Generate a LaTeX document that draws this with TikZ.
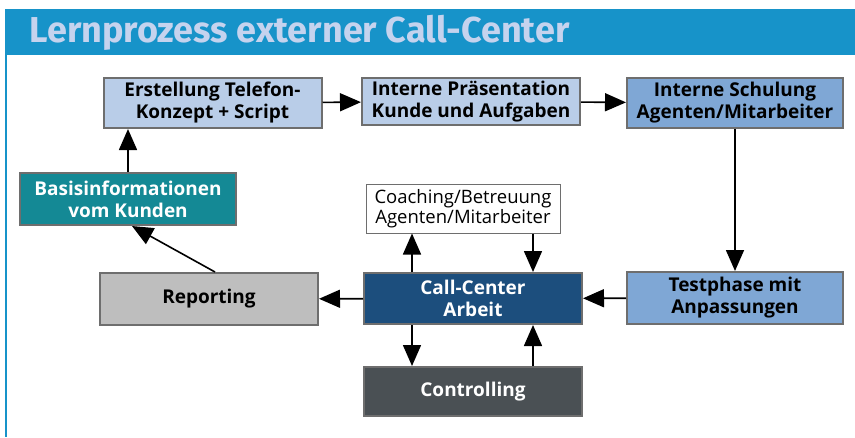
\documentclass[tikz,border=0pt]{standalone}
\usepackage{fontspec}
\setmainfont{Open Sans}
\newfontfamily\titlefont{Fira Sans}
\usetikzlibrary{arrows.meta}
\definecolor{titleblue}{HTML}{1793C9}
\definecolor{titletext}{HTML}{C5D3EE}
\definecolor{lightblue}{HTML}{B9CDE8}
\definecolor{midblue}{HTML}{7FA7D5}
\definecolor{tealbox}{HTML}{148995}
\definecolor{graybox}{HTML}{BEBEBE}
\definecolor{darkblue}{HTML}{1C4E7D}
\definecolor{darkgraybox}{HTML}{4A5054}
\definecolor{boxline}{HTML}{6E6E6E}
\tikzstyle{stepbox} = [rectangle, minimum width=218pt, minimum height=50pt, inner sep=1pt, text centered, align=center, draw=boxline, line width=2pt, font=\bfseries\fontsize{19}{22}\selectfont]
\tikzstyle{light} = [stepbox, fill=lightblue]
\tikzstyle{mid} = [stepbox, fill=midblue]
\tikzstyle{arrow} = [line width=1.6pt, -{Triangle[length=21pt,width=18pt]}]

\begin{document}
\begin{tikzpicture}[x=1pt, y=-1pt]
\useasboundingbox (0,0) rectangle (855,437);
\fill[white] (0,0) rectangle (855,437);
\fill[titleblue] (6,9) rectangle (855,55);
\draw[titleblue, line width=2pt] (6,9) -- (6,437);
\node (title) [anchor=west, text=titletext, font=\titlefont\bfseries\fontsize{36}{40}\selectfont] at (26,33) {Lernprozess externer Call-Center};
\node (erst) [light] at (212.5,103) {Erstellung Telefon-\\Konzept + Script};
\node (praes) [light, minimum height=47pt] at (471,101.5) {Interne Präsentation\\Kunde und Aufgaben};
\node (schul) [mid, minimum width=216pt] at (735,103) {Interne Schulung\\Agenten/Mitarbeiter};
\node (basis) [stepbox, fill=tealbox, text=white, minimum width=216pt, minimum height=52pt] at (128,199) {Basisinformationen\\vom Kunden};
\node (coach) [stepbox, fill=white, draw=boxline, line width=1pt, minimum width=194pt, minimum height=49pt, font=\fontsize{18.5}{20}\selectfont] at (463,208.5) {Coaching/Betreuung\\Agenten/Mitarbeiter};
\node (report) [stepbox, fill=graybox, minimum height=52pt] at (209,299) {Reporting};
\node (cca) [stepbox, fill=darkblue, text=white, minimum height=51pt] at (473,298.5) {Call-Center\\Arbeit};
\node (test) [mid, minimum width=216pt, minimum height=52pt] at (735,298) {Testphase mit\\Anpassungen};
\node (contr) [stepbox, fill=darkgraybox, text=white, minimum height=49pt] at (473,391.5) {Controlling};
% main chain
\draw [arrow] (erst) -- (praes);
\draw [arrow] (praes) -- (schul);
\draw [arrow] (schul) -- (test);
\draw [arrow] (test) -- (cca);
\draw [arrow] (cca) -- (report);
\draw [arrow] ([xshift=6pt]report.north) -- ([xshift=4pt]basis.south);
\draw [arrow] (basis.north) -- (basis.north |- erst.south);
% coaching and controlling loops
\draw [arrow] ([xshift=-61pt]cca.north) -- ([xshift=-61pt]cca.north |- coach.south);
\draw [arrow] ([xshift=70pt]coach.south) -- ([xshift=70pt]coach.south |- cca.north);
\draw [arrow] ([xshift=-61pt]cca.south) -- ([xshift=-61pt]cca.south |- contr.north);
\draw [arrow] ([xshift=60pt]contr.north) -- ([xshift=60pt]contr.north |- cca.south);
\end{tikzpicture}
\end{document}
